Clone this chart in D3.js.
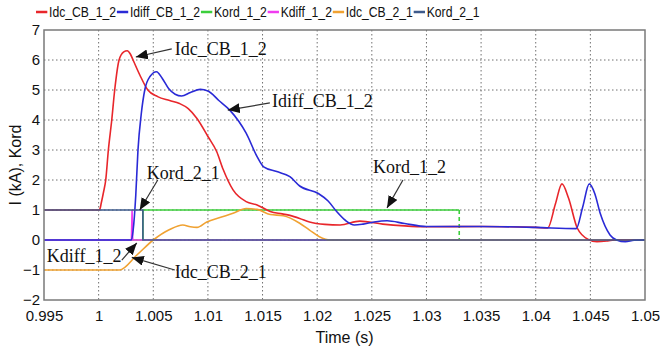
<!DOCTYPE html>
<html>
<head>
<meta charset="utf-8">
<script src="https://cdnjs.cloudflare.com/ajax/libs/d3/7.8.5/d3.min.js"></script>
<style>
  body { margin: 0; background: #fff; }
  svg text { font-family: "Liberation Sans", Arial, sans-serif; }
  .grid line { stroke: #707070; stroke-dasharray: 1.5,2.5; stroke-width: 1; }
  .ann { font-family: "Liberation Serif", "Times New Roman", serif; font-size: 18px; fill: #111; }
</style>
</head>
<body>
<svg width="660" height="354"></svg>
<script>
// series names & colours (legend order)
var names = ["Idc_CB_1_2", "Idiff_CB_1_2", "Kord_1_2", "Kdiff_1_2", "Idc_CB_2_1", "Kord_2_1"];
var colors = ["#e8262b", "#2a2ad6", "#3ccf3c", "#f03cf0", "#f0a232", "#3e5b8c"];

// x ticks / y ticks
var xTicks = [0.995, 1, 1.005, 1.01, 1.015, 1.02, 1.025, 1.03, 1.035, 1.04, 1.045, 1.05];
var yTicks = [-2, -1, 0, 1, 2, 3, 4, 5, 6, 7];

// [time (s), value]
var idcCb12 = [[0.995,1],[1.0000,1],[1.0001,1.02],[1.00025,1.25],[1.00045,1.6],[1.00065,2],[1.00089,3],[1.0012,4],[1.00147,5],
  [1.00187,6],[1.0023,6.27],[1.00262,6.31],[1.0029,6.2],[1.00315,6.0],[1.00377,5.5],[1.0045,5.0],[1.0054,4.78],[1.0065,4.65],
  [1.0074,4.55],[1.0082,4.38],[1.0090,4.05],[1.0100,3.45],[1.0108,2.95],[1.0114,2.35],[1.0123,1.67],[1.0135,1.28],[1.0145,1.17],
  [1.0157,0.95],[1.0168,0.87],[1.0175,0.82],[1.0184,0.72],[1.0193,0.6],[1.0207,0.52],[1.0221,0.5],[1.0239,0.63],[1.0260,0.53],
  [1.0280,0.47],[1.0300,0.44],[1.035,0.45],[1.040,0.42],[1.0411,0.40],[1.0418,1.2],[1.0424,1.87],[1.0430,1.4],[1.0438,0.4],
  [1.0448,0.02],[1.0456,-0.06],[1.0466,-0.03],[1.0472,0],[1.05,0]];
var idiffCb12 = [[0.995,0],[1.0030,0],[1.00315,0.3],[1.0034,1.5],[1.0036,3],[1.0039,4.2],[1.00422,5],[1.0047,5.45],[1.0053,5.61],
  [1.0058,5.4],[1.0064,5.05],[1.0070,4.86],[1.0076,4.8],[1.0084,4.92],[1.0093,5.02],[1.0100,4.97],[1.0110,4.65],[1.0120,4.33],
  [1.0135,3.56],[1.0145,2.78],[1.0151,2.44],[1.0163,2.28],[1.0175,2.11],[1.0184,1.8],[1.0201,1.55],[1.0210,1.3],[1.0218,0.94],
  [1.0226,0.65],[1.0234,0.5],[1.0242,0.53],[1.0252,0.6],[1.0264,0.64],[1.0280,0.55],[1.0300,0.45],[1.035,0.45],[1.040,0.42],
  [1.0437,0.38],[1.0443,1.1],[1.0449,1.87],[1.0454,1.55],[1.0459,0.89],[1.0468,0.17],[1.0474,0],[1.0482,-0.06],[1.0490,-0.01],[1.05,0]];
var kord12 = [[0.995,0],[1.00405,0],[1.00405,1],[1.0330,1],[1.0330,0],[1.05,0]];
var kdiff12 = [[0.995,0],[1.0030,0],[1.00306,1],[1.00312,0],[1.05,0]];
var idcCb21 = [[0.995,-1],[1.0019,-1],[1.0035,-0.5],[1.0050,0],[1.0065,0.35],[1.0077,0.5],[1.0084,0.44],[1.0090,0.42],[1.0099,0.6],
  [1.0111,0.75],[1.0123,0.89],[1.0135,1.05],[1.0145,1.02],[1.0157,0.85],[1.0169,0.81],[1.0184,0.56],[1.0193,0.33],[1.0202,0.11],
  [1.0212,0],[1.05,0]];
var kord21 = [[0.995,1],[1.00405,1],[1.00405,0],[1.05,0]];

// callouts: label, text anchor [t,v], arrow start [t,v], arrow tip [t,v]
var callouts = [
  ["Idc_CB_1_2",   [1.00697, 6.17], [1.00669, 6.37], [1.00340, 6.1]],
  ["Idiff_CB_1_2", [1.01587, 4.43], [1.01567, 4.57], [1.01182, 4.33]],
  ["Kord_2_1",     [1.00441, 2.03], [1.00541, 2.0],  [1.00376, 1.0]],
  ["Kord_1_2",     [1.02511, 2.23], [1.02785, 2.0],  [1.02639, 1.07]],
  ["Kdiff_1_2",    [0.99525, -0.73],[1.00212, -0.67],[1.00349, -0.1]],
  ["Idc_CB_2_1",   [1.00697, -1.27],[1.00697, -1.0], [1.00303, -0.58]]
];

var margin = {top: 30, right: 15, bottom: 54, left: 44},
    width = 660 - margin.left - margin.right,
    height = 354 - margin.top - margin.bottom;

var svg = d3.select("svg");
var g = svg.append("g").attr("transform", "translate(" + [margin.left, margin.top] + ")");

var x = d3.scaleLinear().domain([0.995, 1.05]).range([0, width]);
var y = d3.scaleLinear().domain([-2, 7]).range([height, 0]);

// grid
var grid = g.append("g").classed("grid", true);
grid.selectAll(".vx").data(xTicks.slice(1, -1)).enter().append("line")
    .attr("x1", function(d){ return x(d); }).attr("x2", function(d){ return x(d); })
    .attr("y1", 0).attr("y2", height);
grid.selectAll(".hy").data(yTicks.slice(1, -1)).enter().append("line")
    .attr("y1", function(d){ return y(d); }).attr("y2", function(d){ return y(d); })
    .attr("x1", 0).attr("x2", width);

// axes
var fmt = function(d){ return String(+d.toFixed(3)); };
var xAxis = g.append("g").attr("transform", "translate(0," + height + ")")
    .call(d3.axisBottom(x).tickValues(xTicks).tickFormat(fmt).tickSize(0).tickPadding(10));
var yAxis = g.append("g")
    .call(d3.axisLeft(y).tickValues(yTicks).tickFormat(d3.format("d")).tickSize(0).tickPadding(4));
[xAxis, yAxis].forEach(function(a){
  a.select(".domain").remove();
  a.selectAll("text").style("font-size", "15px").attr("fill", "#111")
    .style("font-family", "'Liberation Sans', Arial, sans-serif");
});

// series lines
var smooth = d3.line().x(function(d){ return x(d[0]); }).y(function(d){ return y(d[1]); }).curve(d3.curveMonotoneX);
var sharp = d3.line().x(function(d){ return x(d[0]); }).y(function(d){ return y(d[1]); });

var series = [
  {data: kord12.slice(0, 4), c: 2, line: sharp},
  {data: kord12.slice(3, 5), c: 2, line: sharp, dash: "4,3"},
  {data: kdiff12, c: 3, line: sharp},
  {data: idcCb21, c: 4, line: smooth},
  {data: idcCb12, c: 0, line: smooth},
  {data: idiffCb12, c: 1, line: smooth},
  {data: kord21, c: 5, line: sharp}
];
g.append("g").selectAll("path").data(series).enter().append("path")
    .attr("fill", "none")
    .attr("stroke", function(d){ return colors[d.c]; })
    .attr("stroke-width", 1.6)
    .attr("stroke-dasharray", function(d){ return d.dash || null; })
    .attr("d", function(d){ return d.line(d.data); });

// frame
g.append("rect").attr("width", width).attr("height", height)
    .attr("fill", "none").attr("stroke", "#7a7a7a").attr("stroke-width", 1.5);

// callouts
svg.append("defs").append("marker")
    .attr("id", "arrow").attr("viewBox", "0 0 12 10").attr("refX", 12).attr("refY", 5)
    .attr("markerWidth", 12).attr("markerHeight", 10).attr("markerUnits", "userSpaceOnUse")
    .attr("orient", "auto")
  .append("path").attr("d", "M0,0L12,5L0,10Z").attr("fill", "#111");

var ann = g.append("g").selectAll(".callout").data(callouts).enter().append("g");
ann.append("line")
    .attr("x1", function(d){ return x(d[2][0]); }).attr("y1", function(d){ return y(d[2][1]); })
    .attr("x2", function(d){ return x(d[3][0]); }).attr("y2", function(d){ return y(d[3][1]); })
    .attr("stroke", "#333").attr("stroke-width", 1.2)
    .attr("marker-end", "url(#arrow)");
ann.append("text").classed("ann", true)
    .attr("x", function(d){ return x(d[1][0]); }).attr("y", function(d){ return y(d[1][1]); })
    .text(function(d){ return d[0]; });

// axis titles
svg.append("text").attr("x", margin.left + x(1.0225)).attr("y", 343)
    .attr("text-anchor", "middle").style("font-size", "16px").attr("fill", "#111")
    .text("Time (s)");
svg.append("text").attr("transform", "translate(21,165) rotate(-90)")
    .attr("text-anchor", "middle").style("font-size", "16px").attr("fill", "#111")
    .text("I (kA), Kord");

// legend
var legend = svg.append("g").attr("transform", "translate(36,17) scale(0.87,1)");
var lx = 0;
names.forEach(function(n, i){
  var item = legend.append("g").attr("transform", "translate(" + lx + ",0)");
  item.append("line").attr("x1", 0).attr("x2", 13).attr("y1", -5).attr("y2", -5)
      .attr("stroke", colors[i]).attr("stroke-width", 2.5);
  var t = item.append("text").attr("x", 15).style("font-size", "14px").attr("fill", "#111").text(n);
  lx += 15 + t.node().getComputedTextLength() + 1;
});
</script>
</body>
</html>
